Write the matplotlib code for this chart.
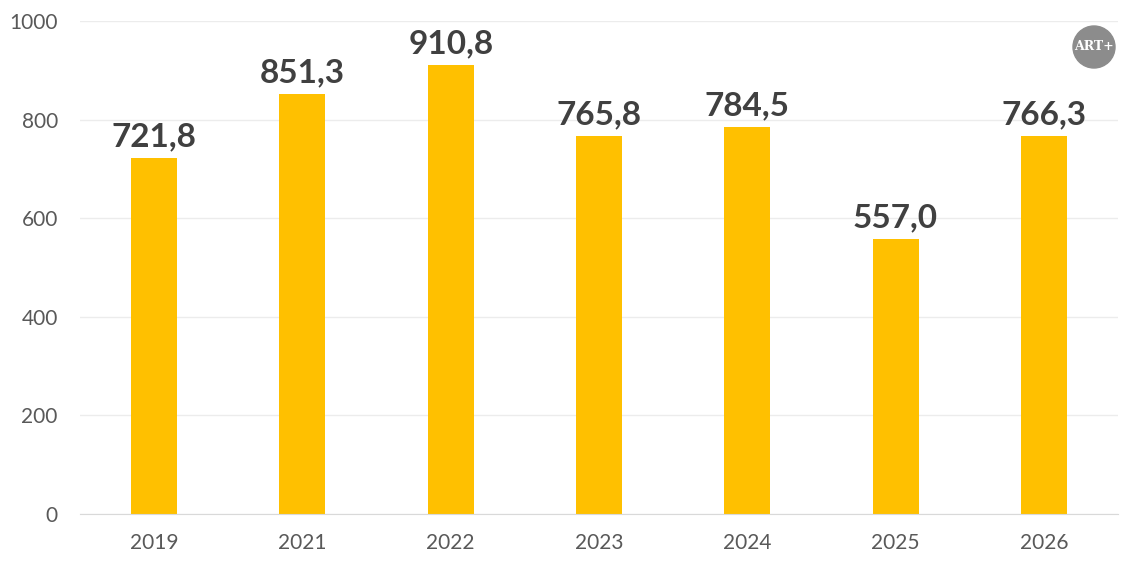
import numpy as np
import matplotlib.pyplot as plt
from matplotlib.patches import Ellipse

plt.rcParams['font.family'] = ['Lato', 'DejaVu Sans']

years = ['2019', '2021', '2022', '2023', '2024', '2025', '2026']
values = [721.8, 851.3, 910.8, 765.8, 784.5, 557.0, 766.3]
value_labels = ['721,8', '851,3', '910,8', '765,8', '784,5', '557,0', '766,3']
yticks = [0, 200, 400, 600, 800, 1000]

fig = plt.figure(figsize=(11.35, 5.67), dpi=100)
ax = fig.add_axes([0.0705, 0.0935, 0.9145, 0.8695])

x = np.arange(len(years))
ax.bar(x, values, width=0.31, color='#ffc000', zorder=3)
# value labels above bars
for xi, v, lab in zip(x, values, value_labels):
    ax.text(xi, v + 14, lab, ha='center', va='bottom', fontsize=24,
            fontweight='bold', color='#404040')

ax.set_xlim(-0.5, len(years) - 0.5)
ax.set_ylim(0, 1000)
ax.set_yticks(yticks)
ax.set_xticks(x)
ax.set_xticklabels(years)
ax.tick_params(axis='both', length=0, labelsize=15, colors='#595959')
ax.tick_params(axis='x', pad=14)
ax.tick_params(axis='y', pad=16)
ax.grid(axis='y', color='#ececec', linewidth=1, zorder=0)
for s in ['top', 'right', 'left']:
    ax.spines[s].set_visible(False)
ax.spines['bottom'].set_color('#d9d9d9')
ax.spines['bottom'].set_zorder(4)

# logo
fig.add_artist(Ellipse((1094 / 1135, 1 - 47 / 567), 42 / 1135, 42 / 567,
                       transform=fig.transFigure, color='#8c8c8c'))
fig.text(1094 / 1135, 1 - 47 / 567, 'ART+', ha='center', va='center',
         fontsize=9, fontweight='bold', family='DejaVu Serif', color='white')

fig.savefig('out.png', dpi=100)
